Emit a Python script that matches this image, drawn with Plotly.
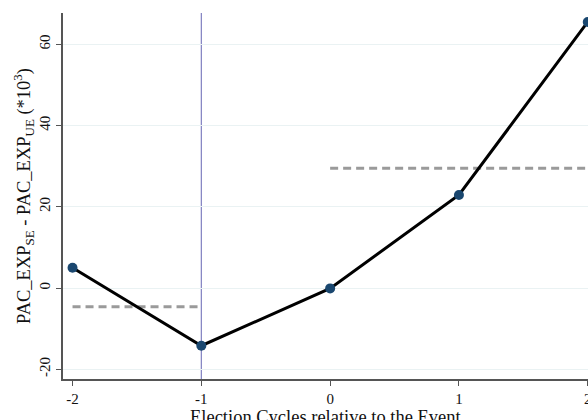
import plotly.graph_objects as go

cycles = [-2, -1, 0, 1, 2]
diff_values = [5.0, -14.2, -0.1, 22.9, 65.5]

pre_x = [-2, -1]
pre_mean = [-4.6, -4.6]
post_x = [0, 2]
post_mean = [29.5, 29.5]

event_cycle = -1
y_ticks = [-20, 0, 20, 40, 60]
x_ticks = [-2, -1, 0, 1, 2]

x_title = "Election Cycles relative to the Event"
y_title = "PAC_EXP<sub>SE</sub> - PAC_EXP<sub>UE</sub> (*10<sup>3</sup>)"

serif = "Liberation Serif"

fig = go.Figure()

fig.add_trace(go.Scatter(x=pre_x, y=pre_mean, mode="lines",
                         line=dict(color="#9a9a9a", width=3, dash="8px,5px"),
                         showlegend=False, hoverinfo="skip"))
fig.add_trace(go.Scatter(x=post_x, y=post_mean, mode="lines",
                         line=dict(color="#9a9a9a", width=3, dash="8px,5px"),
                         showlegend=False, hoverinfo="skip"))
fig.add_trace(go.Scatter(x=cycles, y=diff_values, mode="lines+markers",
                         line=dict(color="black", width=3),
                         marker=dict(color="#1a476f", size=10),
                         showlegend=False))

fig.add_vline(x=event_cycle, line=dict(color="#7f7fc0", width=1.2), layer="below")

fig.add_annotation(text=x_title, xref="paper", yref="paper", x=0.5, y=0,
                   xanchor="center", yanchor="top", yshift=-26, showarrow=False,
                   font=dict(family=serif, size=18.5, color="#111"))

fig.update_layout(
    width=588, height=420,
    margin=dict(l=63, r=0, t=13, b=41),
    paper_bgcolor="white", plot_bgcolor="white",
    font=dict(family=serif, size=15, color="#111"),
    xaxis=dict(
        range=[-2.074, 2.002], tickvals=x_ticks, ticktext=[str(v) for v in x_ticks],
        showgrid=False, zeroline=False, automargin=False,
        showline=True, linecolor="#555", linewidth=1.5,
        ticks="outside", ticklen=5, tickcolor="#555", tickwidth=1,
        ticklabeloverflow="allow",
        tickfont=dict(family=serif, size=15, color="#111"),
    ),
    yaxis=dict(
        range=[-22.4, 67.7], tickvals=y_ticks, ticktext=[str(v) for v in y_ticks],
        showgrid=True, gridcolor="#eaf2f3", gridwidth=1, zeroline=False, automargin=False,
        showline=True, linecolor="#555", linewidth=1.5,
        ticks="outside", ticklen=5, tickcolor="#555", tickwidth=1,
        tickangle=-90,
        tickfont=dict(family=serif, size=15, color="#111"),
        title=dict(text=y_title, font=dict(family=serif, size=18.5, color="#111"), standoff=2),
    ),
)

fig.write_html(
    "out.html",
    config={"displayModeBar": False},
    post_script="document.body.style.margin='0';document.body.style.overflow='hidden';",
)
